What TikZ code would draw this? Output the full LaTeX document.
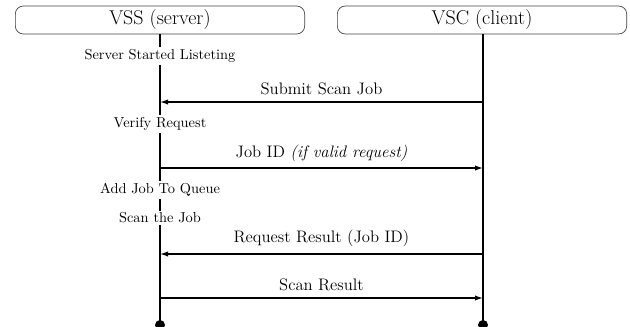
\documentclass[tikz,border=0pt]{standalone}
\usetikzlibrary{arrows.meta}
\begin{document}
\begin{tikzpicture}[x=0.75pt,y=-0.75pt,
  actor/.style={draw=black!75, rounded corners=6pt, line width=0.5pt, minimum width=217pt, minimum height=21pt, inner sep=0pt, font=\fontsize{15}{18}\selectfont},
  lifeline/.style={line width=1.4pt},
  msg/.style={line width=1pt, -{Latex[length=6pt,width=4pt]}},
  msglabel/.style={font=\fontsize{12.5}{15}\selectfont, inner sep=1pt},
  act/.style={fill=white, font=\fontsize{10.8}{13}\selectfont, inner sep=1.5pt},
  enddot/.style={circle, fill=black, inner sep=0pt, minimum size=7.5pt}]
\useasboundingbox (0,0) rectangle (630,326);

% participants
\node[actor] (vss) at (160,20) {VSS (server)};
\node[actor] (vsc) at (482,20) {VSC (client)};

% lifeline end points
\node[enddot] (sEnd) at (160,325) {};
\node[enddot] (cEnd) at (483,325) {};
\draw[lifeline] (vss.south -| sEnd) -- (sEnd.center);
\draw[lifeline] (vsc.south -| cEnd) -- (cEnd.center);

% activities on the server
\node[act] (a1) at (160,56) {Server Started Listeting};
\node[act] (a2) at (160,124) {Verify Request};
\node[act] (a3) at (160,190) {Add Job To Queue};
\node[act] (a4) at (160,218) {Scan the Job};

% message anchor points on the lifelines
\coordinate (s1) at (160,102); \coordinate (c1) at (483,102);
\coordinate (s2) at (160,168); \coordinate (c2) at (483,168);
\coordinate (s3) at (160,254); \coordinate (c3) at (483,254);
\coordinate (s4) at (160,298); \coordinate (c4) at (483,298);

% messages
\draw[msg] (c1) -- node[msglabel, above=4pt] {Submit Scan Job} (s1);
\draw[msg] (s2) -- node[msglabel, above=3pt] {Job ID \textit{(if valid request)}} (c2);
\draw[msg] (c3) -- node[msglabel, above=4pt] {Request Result (Job ID)} (s3);
\draw[msg] (s4) -- node[msglabel, above=4pt] {Scan Result} (c4);
\end{tikzpicture}
\end{document}
